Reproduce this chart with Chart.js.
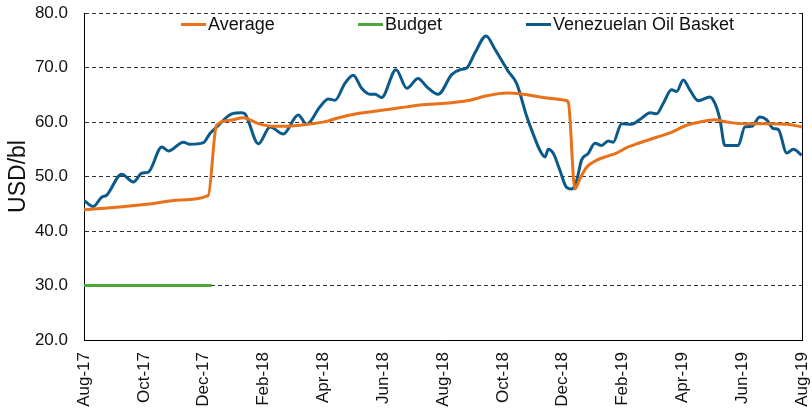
<!DOCTYPE html>
<html>
<head>
<meta charset="utf-8">
<script src="https://cdn.jsdelivr.net/npm/chart.js@4/dist/chart.umd.min.js"></script>
<style>
  html, body { margin: 0; padding: 0; background: #fff; }
  #wrap { position: relative; width: 812px; height: 410px; }
  #legend { position: absolute; left: 0; top: 0; width: 812px; height: 40px; pointer-events: none;
            font-family: "Liberation Sans", Arial, sans-serif; font-size: 18px; color: #111; }
  .item { position: absolute; top: 14px; display: flex; align-items: center; white-space: nowrap; }
  .swatch { display: inline-block; width: 25px; height: 3px; margin-right: 2px; }
</style>
</head>
<body>
<div id="wrap">
  <canvas id="c" width="812" height="410"></canvas>
  <div id="legend"></div>
</div>
<script>
// ---- data (x = months since Aug-17) ----
const xTickLabels = ['Aug-17','Oct-17','Dec-17','Feb-18','Apr-18','Jun-18','Aug-18','Oct-18','Dec-18','Feb-19','Apr-19','Jun-19','Aug-19'];

const averageMonths = [0, 0.98, 2.10, 3.21, 4.15, 4.43, 4.88, 5.32, 5.83, 6.33, 6.77, 7.22, 7.66, 8.17, 8.45, 9.11, 9.89, 10.56, 11.23, 12.18, 12.90, 13.46, 14.13, 14.68, 15.24, 15.80, 16.08, 16.19, 16.41, 16.58, 16.80, 17.14, 17.47, 17.80, 18.14, 18.58, 19.14, 19.59, 20.14, 20.59, 21.09, 21.48, 22.04, 22.93, 23.49, 23.99];
const averageValues = [43.9, 44.3, 44.9, 45.7, 46.5, 59.4, 60.3, 60.8, 59.7, 59.2, 59.2, 59.4, 59.7, 60.2, 60.7, 61.5, 62.1, 62.6, 63.1, 63.5, 64.0, 64.8, 65.3, 65.1, 64.6, 64.2, 64.0, 63.6, 47.7, 49.6, 51.7, 53.0, 53.7, 54.3, 55.3, 56.2, 57.2, 58.0, 59.4, 60.0, 60.4, 60.0, 59.7, 59.7, 59.6, 59.1];

const budgetMonths = [0, 4.27];
const budgetValues = [30.0, 30.0];

const basketMonths = [0.00, 0.31, 0.59, 0.76, 1.26, 1.65, 1.93, 2.15, 2.60, 2.82, 3.32, 3.54, 3.99, 4.21, 4.44, 4.94, 5.27, 5.38, 5.83, 6.22, 6.66, 7.16, 7.44, 7.89, 8.17, 8.39, 8.72, 9.00, 9.28, 9.56, 9.73, 9.95, 10.43, 10.79, 11.17, 11.45, 11.84, 12.29, 12.57, 12.79, 13.07, 13.44, 13.74, 14.18, 14.46, 14.80, 15.07, 15.24, 15.41, 15.52, 15.69, 15.91, 16.13, 16.30, 16.47, 16.63, 16.85, 17.08, 17.30, 17.52, 17.69, 17.97, 18.30, 18.64, 18.92, 19.14, 19.36, 19.64, 19.81, 20.03, 20.25, 20.53, 20.92, 21.09, 21.26, 21.42, 21.87, 22.09, 22.32, 22.59, 22.82, 23.04, 23.21, 23.49, 23.71, 23.99];
const basketValues = [45.6, 44.5, 46.2, 46.6, 50.4, 49.0, 50.6, 50.8, 55.4, 54.7, 56.3, 55.9, 56.2, 57.9, 59.1, 61.5, 61.7, 61.5, 56.0, 59.1, 57.8, 61.3, 59.6, 62.8, 64.2, 64.0, 67.1, 68.6, 66.2, 65.1, 65.1, 64.5, 69.6, 66.2, 68.0, 66.5, 65.1, 68.7, 69.6, 69.9, 72.7, 75.8, 73.3, 69.3, 67.1, 61.0, 57.0, 54.8, 53.6, 55.0, 54.2, 51.1, 48.0, 47.7, 49.3, 53.0, 54.2, 56.1, 55.7, 56.5, 56.3, 59.7, 59.6, 60.7, 61.7, 61.5, 63.4, 65.9, 65.6, 67.7, 65.9, 63.9, 64.6, 63.4, 60.4, 55.7, 55.7, 59.1, 59.2, 60.9, 60.4, 58.8, 58.6, 54.3, 55.0, 53.9];

const seriesNames = ['Average', 'Budget', 'Venezuelan Oil Basket'];
const seriesColors = ['#E8711A', '#4DA83A', '#0B5A8A'];

function pts(xs, ys) { return xs.map((x, i) => ({ x: x, y: ys[i] })); }

const FONT = '"Liberation Sans", Arial, sans-serif';

const rightBorder = {
  id: 'rightBorder',
  afterDraw(chart) {
    const a = chart.chartArea, ctx = chart.ctx;
    ctx.save();
    ctx.strokeStyle = '#000';
    ctx.lineWidth = 1;
    ctx.beginPath();
    ctx.moveTo(a.right + 0.5, a.top);
    ctx.lineTo(a.right + 0.5, a.bottom);
    ctx.stroke();
    ctx.restore();
  }
};

const chart = new Chart(document.getElementById('c'), {
  type: 'line',
  data: {
    datasets: [
      { label: seriesNames[0], data: pts(averageMonths, averageValues), borderColor: seriesColors[0], backgroundColor: seriesColors[0],
        borderWidth: 3, pointRadius: 0, cubicInterpolationMode: 'monotone', order: 1 },
      { label: seriesNames[1], data: pts(budgetMonths, budgetValues), borderColor: seriesColors[1], backgroundColor: seriesColors[1],
        borderWidth: 3, pointRadius: 0, order: 0 },
      { label: seriesNames[2], data: pts(basketMonths, basketValues), borderColor: seriesColors[2], backgroundColor: seriesColors[2],
        borderWidth: 3, pointRadius: 0, cubicInterpolationMode: 'monotone', order: 2 }
    ]
  },
  options: {
    responsive: false,
    animation: false,
    layout: { padding: { top: 13, right: 10, left: 0, bottom: 0 } },
    plugins: { legend: { display: false }, tooltip: { enabled: false } },
    scales: {
      x: {
        type: 'linear', min: 0, max: 24,
        afterFit(s) { s.height = 70; s.paddingLeft = 0; s.paddingRight = 0; },
        ticks: {
          stepSize: 2, autoSkip: false, minRotation: 90, maxRotation: 90, padding: 12,
          color: '#111', font: { family: FONT, size: 17 },
          callback: (v) => xTickLabels[Math.round(v / 2)]
        },
        grid: { display: false, drawTicks: false },
        border: { display: true, color: '#000', width: 1 }
      },
      y: {
        min: 20, max: 80,
        afterFit(s) { s.width = 84; s.paddingTop = 0; s.paddingBottom = 0; },
        ticks: { stepSize: 10, padding: 16, color: '#111', font: { family: FONT, size: 17 },
                 callback: (v) => Number(v).toFixed(1) },
        title: { display: true, text: 'USD/bl', color: '#111', font: { family: FONT, size: 23 }, padding: { top: 5, bottom: 0 } },
        grid: { color: '#333', lineWidth: 1, drawTicks: false },
        border: { display: true, color: '#000', width: 1, dash: [4, 3] }
      }
    }
  },
  plugins: [rightBorder]
});

// HTML legend built from the datasets
const legendLefts = [181, 358, 526];
const lg = document.getElementById('legend');
chart.data.datasets.forEach((ds, i) => {
  const it = document.createElement('div');
  it.className = 'item';
  it.style.left = legendLefts[i] + 'px';
  const sw = document.createElement('span');
  sw.className = 'swatch';
  sw.style.background = ds.borderColor;
  const tx = document.createElement('span');
  tx.textContent = ds.label;
  it.appendChild(sw); it.appendChild(tx);
  lg.appendChild(it);
});
</script>
</body>
</html>
